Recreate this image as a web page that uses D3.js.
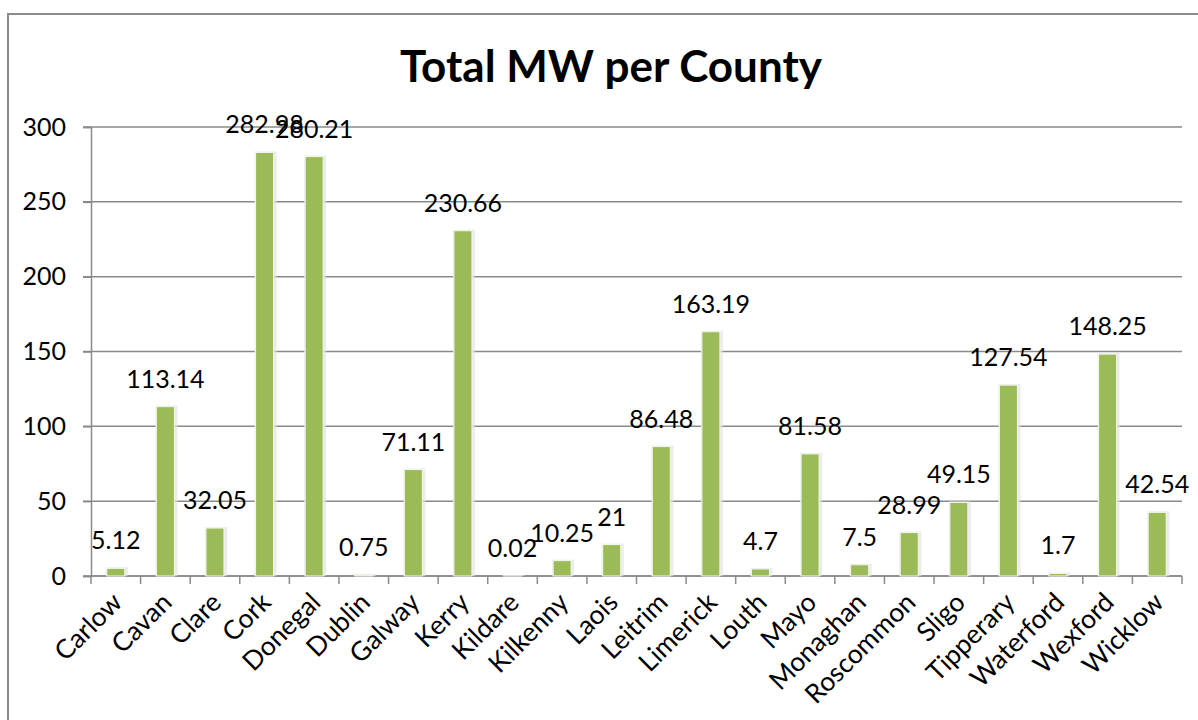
<!DOCTYPE html>
<html>
<head>
<meta charset="utf-8">
<script src="https://cdn.jsdelivr.net/npm/d3@7"></script>
<style>
  body { margin: 0; background: #fff; }
  text { font-family: Lato, "Liberation Sans", sans-serif; fill: #000; }
</style>
</head>
<body>
<script>
// data
var counties = ["Carlow", "Cavan", "Clare", "Cork", "Donegal", "Dublin", "Galway", "Kerry",
  "Kildare", "Kilkenny", "Laois", "Leitrim", "Limerick", "Louth", "Mayo", "Monaghan",
  "Roscommon", "Sligo", "Tipperary", "Waterford", "Wexford", "Wicklow"];
var mw = [5.12, 113.14, 32.05, 282.98, 280.21, 0.75, 71.11, 230.66,
  0.02, 10.25, 21, 86.48, 163.19, 4.7, 81.58, 7.5,
  28.99, 49.15, 127.54, 1.7, 148.25, 42.54];
var yTicks = [0, 50, 100, 150, 200, 250, 300];
var title = "Total MW per County";

var width = 1198, height = 720;
var plotLeft = 91, plotRight = 1182, plotTop = 127, plotBottom = 576;

var svg = d3.select("body").append("svg")
  .attr("width", width)
  .attr("height", height);

/* outer chart border */
svg.append("rect")
  .attr("x", 8).attr("y", 14)
  .attr("width", 1210).attr("height", 730)
  .attr("fill", "none")
  .attr("stroke", "#8c8c8c")
  .attr("stroke-width", 2);

svg.append("text")
  .attr("x", 611).attr("y", 82)
  .attr("text-anchor", "middle")
  .attr("font-size", 44)
  .attr("font-weight", "bold")
  .text(title);

var x = d3.scaleBand()
  .domain(counties)
  .range([plotLeft, plotRight])
  .paddingInner(0.637)
  .paddingOuter(0.637 / 2);

var y = d3.scaleLinear().domain([0, 300]).range([plotBottom, plotTop]);

/* gridlines */
svg.append("g")
  .selectAll("line")
  .data(yTicks)
  .enter().append("line")
    .attr("x1", plotLeft - 8).attr("x2", plotRight)
    .attr("y1", function(d) { return y(d); })
    .attr("y2", function(d) { return y(d); })
    .attr("stroke", "#8a8a8a")
    .attr("stroke-width", 1.5);

/* y axis */
var yAxis = svg.append("g")
  .attr("transform", "translate(" + plotLeft + ",0)")
  .call(d3.axisLeft(y).tickValues(yTicks).tickSize(8).tickPadding(17));
yAxis.select(".domain").attr("stroke", "#8a8a8a").attr("stroke-width", 1.5);
yAxis.selectAll(".tick line").attr("stroke", "#8a8a8a").attr("stroke-width", 1.5);
yAxis.selectAll(".tick text")
  .attr("font-size", 25)
  .attr("font-family", "Lato, 'Liberation Sans', sans-serif")
  .attr("fill", "#000");

/* x axis line and tick marks at band boundaries */
var step = x.step();
svg.append("line")
  .attr("x1", plotLeft).attr("x2", plotRight)
  .attr("y1", plotBottom).attr("y2", plotBottom)
  .attr("stroke", "#8a8a8a").attr("stroke-width", 1.5);
svg.append("g")
  .selectAll("line")
  .data(d3.range(counties.length + 1))
  .enter().append("line")
    .attr("x1", function(i) { return plotLeft + i * step; })
    .attr("x2", function(i) { return plotLeft + i * step; })
    .attr("y1", plotBottom).attr("y2", plotBottom + 8)
    .attr("stroke", "#8a8a8a").attr("stroke-width", 1.5);

var data = counties.map(function(c, i) { return { county: c, value: mw[i] }; });

/* soft shadow behind bars */
svg.append("g")
  .selectAll("rect")
  .data(data)
  .enter().append("rect")
    .attr("x", function(d) { return x(d.county) - 1; })
    .attr("y", function(d) { return y(d.value) - 1; })
    .attr("width", x.bandwidth() + 4)
    .attr("height", function(d) { return plotBottom - y(d.value) + 1; })
    .attr("fill", "#e3e3e3")
    .attr("opacity", 0.7);

svg.append("g")
  .selectAll("rect")
  .data(data)
  .enter().append("rect")
    .attr("x", function(d) { return x(d.county); })
    .attr("y", function(d) { return y(d.value); })
    .attr("width", x.bandwidth())
    .attr("height", function(d) { return plotBottom - y(d.value); })
    .attr("fill", "#9bbb59")
    .attr("stroke", "#f4f7ee")
    .attr("stroke-width", 1);

/* data labels */
svg.append("g")
  .selectAll("text")
  .data(data)
  .enter().append("text")
    .attr("x", function(d) { return x(d.county) + x.bandwidth() / 2; })
    .attr("y", function(d) { return y(d.value) - 19; })
    .attr("text-anchor", "middle")
    .attr("font-size", 25)
    .text(function(d) { return d.value; });

/* category labels */
svg.append("g")
  .selectAll("text")
  .data(counties)
  .enter().append("text")
    .attr("transform", function(d) {
      return "translate(" + (x(d) + x.bandwidth() / 2 + 8) + "," + (plotBottom + 28) + ") rotate(-45)";
    })
    .attr("text-anchor", "end")
    .attr("font-size", 26.5)
    .text(function(d) { return d; });
</script>
</body>
</html>
